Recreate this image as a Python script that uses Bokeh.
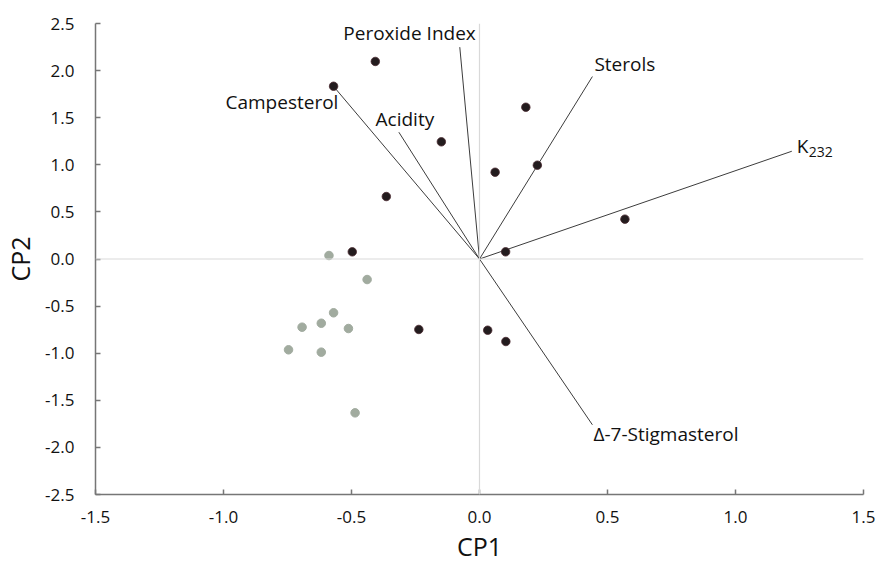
from bokeh.plotting import figure
from bokeh.models import Range1d, SingleIntervalTicker, NumeralTickFormatter, Span, ColumnDataSource
from bokeh.core.properties import value
from bokeh.embed import file_html
from bokeh.resources import INLINE

# --- data ---
dark_x = [-0.407, -0.570, 0.181, -0.149, 0.061, 0.226, -0.364, 0.568, -0.497, 0.102, -0.237, 0.032, 0.103]
dark_y = [2.097, 1.834, 1.611, 1.244, 0.921, 0.996, 0.663, 0.423, 0.076, 0.076, -0.748, -0.756, -0.876]
gray_x = [-0.588, -0.439, -0.570, -0.693, -0.618, -0.512, -0.746, -0.618, -0.486]
gray_y = [0.037, -0.218, -0.571, -0.724, -0.682, -0.738, -0.964, -0.989, -1.633]

vec_names = ["Campesterol", "Acidity", "Peroxide Index", "Sterols", "K", "Δ-7-Stigmasterol"]
vec_x = [-0.563, -0.315, -0.077, 0.441, 1.220, 0.441]
vec_y = [1.810, 1.346, 2.249, 1.937, 1.144, -1.760]
k_sub = "232"

# label placement (style)
lab_align = ["right", "center", "right", "left", "left", "left"]
lab_dx = [3, 6, 16, 2, 5, 1]
lab_dy = [14, -13, -14, -13, -5, 9]

FONT = "Open Sans"

p = figure(width=878, height=566, output_backend="svg", toolbar_location=None,
           x_range=Range1d(-1.5, 1.5), y_range=Range1d(-2.5, 2.5),
           min_border_left=95, min_border_right=15, min_border_top=23, min_border_bottom=72)
p.outline_line_color = None
p.grid.visible = False
p.background_fill_color = "white"
p.border_fill_color = "white"

for ax in (p.xaxis[0], p.yaxis[0]):
    ax.ticker = SingleIntervalTicker(interval=0.5)
    ax.formatter = NumeralTickFormatter(format="0.0")
    ax.major_tick_in = 5
    ax.major_tick_out = 0
    ax.minor_tick_line_color = None
    ax.axis_line_color = "#767676"
    ax.axis_line_width = 1.5
    ax.major_tick_line_color = "#767676"
    ax.major_tick_line_width = 1.5
    ax.major_label_text_font = FONT
    ax.major_label_text_font_size = "17px"
    ax.major_label_text_color = "#111111"
    ax.axis_label_text_font = FONT
    ax.axis_label_text_font_size = "25px"
    ax.axis_label_text_font_style = "normal"
    ax.axis_label_text_color = "#111111"

p.xaxis.axis_label = "CP1"
p.yaxis.axis_label = "CP2"
p.xaxis.major_label_standoff = 12
p.yaxis.major_label_standoff = 17
p.xaxis.axis_label_standoff = 3
p.yaxis.axis_label_standoff = 5

p.add_layout(Span(location=0, dimension="width", line_color="#d9d9d9", line_width=1.2))
p.add_layout(Span(location=0, dimension="height", line_color="#d9d9d9", line_width=1.2))

p.segment(x0=[0] * len(vec_x), y0=[0] * len(vec_y), x1=vec_x, y1=vec_y,
          line_color="#3c3c3c", line_width=1)

p.scatter(gray_x, gray_y, size=8.5, fill_color="#a1ab9f", line_color="#a1ab9f")
p.scatter(dark_x, dark_y, size=8.5, fill_color="#231c1e", line_color="#4a2a30", line_width=0.8)

src = ColumnDataSource(dict(x=vec_x, y=vec_y, t=vec_names, align=lab_align, dx=lab_dx, dy=lab_dy))
p.text(x="x", y="y", text="t", source=src, text_align="align", x_offset="dx", y_offset="dy",
       text_baseline="middle", text_font=value(FONT), text_font_size="19px", text_color="#111111")

# subscript of K232
p.text(x=[vec_x[4]], y=[vec_y[4]], text=[k_sub], text_align="left", x_offset=lab_dx[4] + 12,
       y_offset=lab_dy[4] + 6, text_baseline="middle", text_font=value(FONT),
       text_font_size="14px", text_color="#111111")

open("out.html", "w").write(file_html(p, INLINE))
